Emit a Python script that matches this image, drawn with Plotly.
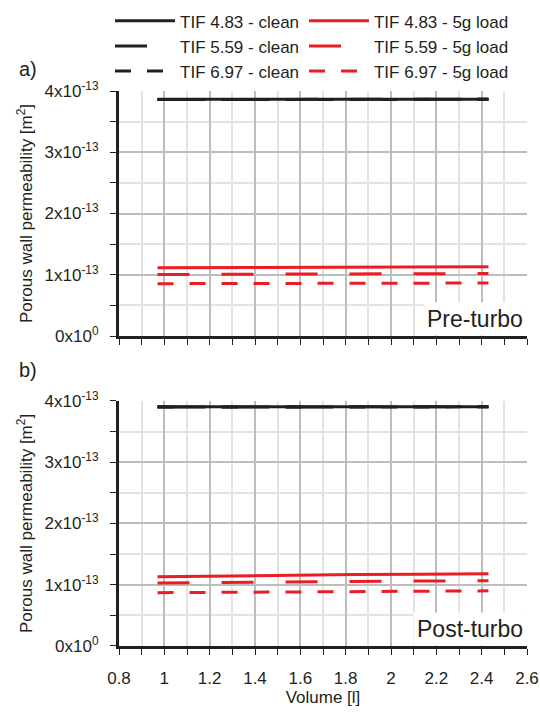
import plotly.graph_objects as go
from plotly.subplots import make_subplots

# ---- data ----
volume = [0.97, 1.26, 1.55, 1.84, 2.13, 2.43]

pre_clean_483 = [3.865e-13, 3.865e-13, 3.865e-13, 3.865e-13, 3.866e-13, 3.866e-13]
pre_clean_559 = [3.862e-13, 3.863e-13, 3.863e-13, 3.864e-13, 3.864e-13, 3.865e-13]
pre_clean_697 = [3.860e-13, 3.861e-13, 3.862e-13, 3.862e-13, 3.863e-13, 3.864e-13]
pre_load_483 = [1.115e-13, 1.118e-13, 1.121e-13, 1.124e-13, 1.127e-13, 1.130e-13]
pre_load_559 = [1.005e-13, 1.008e-13, 1.011e-13, 1.014e-13, 1.017e-13, 1.020e-13]
pre_load_697 = [0.855e-13, 0.857e-13, 0.859e-13, 0.861e-13, 0.863e-13, 0.865e-13]

post_clean_483 = [3.905e-13, 3.905e-13, 3.906e-13, 3.906e-13, 3.907e-13, 3.907e-13]
post_clean_559 = [3.902e-13, 3.903e-13, 3.903e-13, 3.904e-13, 3.905e-13, 3.905e-13]
post_clean_697 = [3.900e-13, 3.901e-13, 3.902e-13, 3.903e-13, 3.903e-13, 3.904e-13]
post_load_483 = [1.130e-13, 1.145e-13, 1.157e-13, 1.166e-13, 1.173e-13, 1.180e-13]
post_load_559 = [1.030e-13, 1.040e-13, 1.048e-13, 1.055e-13, 1.061e-13, 1.066e-13]
post_load_697 = [0.870e-13, 0.878e-13, 0.885e-13, 0.891e-13, 0.896e-13, 0.900e-13]

names = ["TIF 4.83 - clean", "TIF 4.83 - 5g load",
         "TIF 5.59 - clean", "TIF 5.59 - 5g load",
         "TIF 6.97 - clean", "TIF 6.97 - 5g load"]

y_tickvals = [0, 1e-13, 2e-13, 3e-13, 4e-13]
y_ticktext = ["0x10<sup>0</sup>", "1x10<sup>-13</sup>", "2x10<sup>-13</sup>",
              "3x10<sup>-13</sup>", "4x10<sup>-13</sup>"]
x_tickvals = [0.8, 1.0, 1.2, 1.4, 1.6, 1.8, 2.0, 2.2, 2.4, 2.6]
x_ticktext = ["0.8", "1", "1.2", "1.4", "1.6", "1.8", "2", "2.2", "2.4", "2.6"]

BLACK = "#231f20"
RED = "#ec1c24"
styles = [(BLACK, "solid"), (RED, "solid"),
          (BLACK, "32px,32px"), (RED, "32px,32px"),
          (BLACK, "16px,16px"), (RED, "16px,16px")]
legend_ids = ["legend", "legend2", "legend", "legend2", "legend", "legend2"]

pre = [pre_clean_483, pre_load_483, pre_clean_559, pre_load_559, pre_clean_697, pre_load_697]
post = [post_clean_483, post_load_483, post_clean_559, post_load_559, post_clean_697, post_load_697]

fig = make_subplots(rows=2, cols=1, shared_xaxes=True, vertical_spacing=0.117)

for i, (series, (col, dash)) in enumerate(zip(pre, styles)):
    fig.add_trace(go.Scatter(x=volume, y=series, mode="lines", name=names[i],
                             legend=legend_ids[i],
                             line=dict(color=col, dash=dash, width=3)), row=1, col=1)
for i, (series, (col, dash)) in enumerate(zip(post, styles)):
    fig.add_trace(go.Scatter(x=volume, y=series, mode="lines", name=names[i],
                             line=dict(color=col, dash=dash, width=3),
                             showlegend=False), row=2, col=1)

FAM = "Liberation Sans, Arial, sans-serif"
font = dict(family=FAM, size=17, color="#231f20")

for r in (1, 2):
    fig.update_xaxes(range=[0.8, 2.6], tickvals=x_tickvals, ticktext=x_ticktext,
                     showticklabels=(r == 2),
                     showgrid=True, gridcolor="#bdbdbd", gridwidth=1.5,
                     showline=True, linecolor=BLACK, linewidth=3,
                     ticks="outside", ticklen=6, tickcolor=BLACK, tickwidth=1,
                     ticklabelstandoff=9,
                     minor=dict(tickvals=[0.9, 1.1, 1.3, 1.5, 1.7, 1.9, 2.1, 2.3, 2.5],
                                showgrid=True, gridcolor="#e3e3e3", gridwidth=1.5,
                                ticks="outside", ticklen=6, tickcolor=BLACK),
                     zeroline=False, tickfont=font, row=r, col=1)
    fig.update_yaxes(range=[0, 4e-13], tickvals=y_tickvals, ticktext=y_ticktext,
                     showgrid=True, gridcolor="#bdbdbd", gridwidth=1.5,
                     showline=True, linecolor=BLACK, linewidth=3,
                     ticks="outside", ticklen=6, tickcolor=BLACK, tickwidth=1,
                     ticklabelstandoff=8,
                     minor=dict(tickvals=[0.5e-13, 1.5e-13, 2.5e-13, 3.5e-13],
                                showgrid=True, gridcolor="#e3e3e3", gridwidth=1.5,
                                ticks="outside", ticklen=6, tickcolor=BLACK),
                     zeroline=False, tickfont=font,
                     title=dict(text="Porous wall permeability [m<sup>2</sup>]",
                                font=font, standoff=8),
                     row=r, col=1)

fig.update_xaxes(title=dict(text="Volume [l]", font=font, standoff=3), row=2, col=1)

big = dict(family=FAM, size=23, color="#231f20")
fig.add_annotation(text="Pre-turbo", xref="x domain", yref="y domain", x=1.0, y=0.0,
                   xanchor="right", yanchor="bottom", showarrow=False,
                   bgcolor="white", borderpad=3, font=big)
fig.add_annotation(text="Post-turbo", xref="x2 domain", yref="y2 domain", x=1.0, y=0.0,
                   xanchor="right", yanchor="bottom", showarrow=False,
                   bgcolor="white", borderpad=3, font=big)
label = dict(family=FAM, size=20, color="#231f20")
fig.add_annotation(text="a)", xref="paper", yref="paper", x=-0.25, y=1.04,
                   xanchor="left", yanchor="middle", showarrow=False, font=label)
fig.add_annotation(text="b)", xref="paper", yref="paper", x=-0.25, y=0.4974,
                   xanchor="left", yanchor="middle", showarrow=False, font=label)

leg_font = dict(family=FAM, size=17, color="#231f20")
fig.update_layout(
    width=540, height=715,
    margin=dict(l=119, r=13, t=91, b=69, autoexpand=False),
    paper_bgcolor="white", plot_bgcolor="white",
    font=font,
    showlegend=True,
    legend=dict(orientation="v", x=-0.022, xanchor="left", y=1.158, yanchor="top",
                itemwidth=60, font=leg_font, bgcolor="rgba(0,0,0,0)",
                traceorder="normal"),
    legend2=dict(orientation="v", x=0.4534, xanchor="left", y=1.158, yanchor="top",
                 itemwidth=60, font=leg_font, bgcolor="rgba(0,0,0,0)",
                 traceorder="normal"),
)

fig.write_html("out.html")
